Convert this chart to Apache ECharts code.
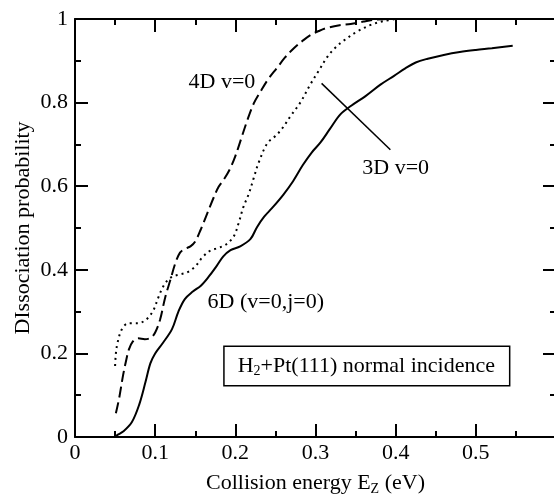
<!DOCTYPE html>
<html><head><meta charset="utf-8">
<script src="https://cdn.jsdelivr.net/npm/echarts@6/dist/echarts.min.js"></script>
<style>html,body{margin:0;padding:0;background:#fff}#c{width:554px;height:497px}</style>
</head><body><div id="c"></div>
<script>
// 6D (v=0,j=0) — solid
const energy6D = [0.050,0.053,0.060,0.071,0.080,0.088,0.094,0.100,0.110,0.121,0.129,0.137,0.147,0.157,0.167,0.177,0.185,0.194,0.206,0.219,0.227,0.236,0.246,0.260,0.272,0.284,0.295,0.306,0.318,0.331,0.345,0.362,0.381,0.398,0.412,0.425,0.440,0.460,0.480,0.500,0.520,0.546];
const prob6D   = [0.000,0.005,0.013,0.036,0.077,0.132,0.176,0.200,0.226,0.258,0.300,0.330,0.348,0.362,0.384,0.410,0.432,0.447,0.456,0.474,0.502,0.527,0.548,0.580,0.612,0.650,0.680,0.704,0.737,0.772,0.793,0.815,0.843,0.864,0.882,0.896,0.905,0.914,0.921,0.926,0.930,0.936];
// 4D v=0 — dashed
const energy4D = [0.051,0.055,0.060,0.064,0.067,0.072,0.079,0.087,0.095,0.100,0.106,0.1125,0.119,0.125,0.131,0.137,0.144,0.150,0.157,0.165,0.173,0.179,0.186,0.193,0.200,0.207,0.215,0.223,0.231,0.241,0.252,0.262,0.273,0.284,0.294,0.305,0.315,0.330,0.344,0.360,0.373,0.390];
const prob4D   = [0.057,0.092,0.148,0.185,0.208,0.228,0.236,0.234,0.238,0.250,0.280,0.334,0.376,0.415,0.441,0.450,0.456,0.468,0.497,0.535,0.573,0.598,0.617,0.640,0.672,0.712,0.758,0.798,0.825,0.856,0.883,0.908,0.930,0.948,0.962,0.972,0.979,0.985,0.988,0.994,0.998,1.000];
// 3D v=0 — dotted
const energy3D = [0.050,0.051,0.053,0.058,0.065,0.072,0.079,0.086,0.092,0.098,0.104,0.110,0.116,0.122,0.131,0.140,0.150,0.159,0.168,0.178,0.188,0.198,0.204,0.210,0.217,0.223,0.229,0.240,0.250,0.258,0.269,0.281,0.294,0.304,0.315,0.325,0.335,0.352,0.369,0.385,0.400];
const prob3D   = [0.170,0.200,0.225,0.256,0.271,0.272,0.272,0.277,0.287,0.304,0.334,0.360,0.376,0.384,0.389,0.394,0.408,0.430,0.445,0.452,0.460,0.480,0.511,0.550,0.583,0.620,0.656,0.703,0.720,0.737,0.768,0.800,0.845,0.876,0.910,0.932,0.948,0.970,0.986,0.995,1.000];
// leader line for the 3D label
const leaderE = [0.3076,0.3934];
const leaderP = [0.846,0.687];

const xTicks = [0,0.1,0.2,0.3,0.4,0.5];
const yTicks = [0,0.2,0.4,0.6,0.8,1];

const FONT = "'Liberation Serif','Times New Roman',serif";
const pairs = (a,b)=>a.map((v,i)=>[v,b[i]]);

const chart = echarts.init(document.getElementById('c'), null, {renderer:'canvas'});
const axisLine = {show:true, onZero:false, lineStyle:{color:'#000', width:2}};
const tick = {show:true, inside:true, length:13, lineStyle:{color:'#000', width:2}};
const minor = {show:true, splitNumber:2, length:6, lineStyle:{color:'#000', width:2}};

const option = {
  animation:false,
  backgroundColor:'#fff',
  grid:{left:75, top:19, width:481, height:418, containLabel:false, outerBoundsMode:'none'},
  xAxis:[{
    type:'value', min:0, max:0.6, interval:0.1, position:'bottom',
    axisLine, axisTick:tick, minorTick:minor, splitLine:{show:false},
    axisLabel:{color:'#000', fontFamily:FONT, fontSize:22, margin:5,
      formatter:v=> xTicks.some(t=>Math.abs(t-v)<1e-9) ? String(+v.toFixed(1)) : ''},
    name:'{a|Collision energy E}{s|Z}{a| (eV)}', nameLocation:'middle', nameGap:33, nameMoveOverlap:false,
    nameTextStyle:{color:'#000', fontFamily:FONT, fontSize:22,
      rich:{a:{fontFamily:FONT, fontSize:22, color:'#000'}, s:{fontFamily:FONT, fontSize:14, color:'#000', padding:[12,0,0,0]}}}
  },{
    type:'value', min:0, max:0.6, interval:0.1, position:'top',
    axisLine, axisTick:tick, minorTick:minor, splitLine:{show:false}, axisLabel:{show:false}
  }],
  yAxis:[{
    type:'value', min:0, max:1, interval:0.2, position:'left',
    axisLine, axisTick:tick, minorTick:minor, splitLine:{show:false},
    axisLabel:{color:'#000', fontFamily:FONT, fontSize:22, margin:7,
      formatter:v=> yTicks.some(t=>Math.abs(t-v)<1e-9) ? String(+v.toFixed(1)) : ''},
    name:'DIssociation probability', nameLocation:'middle', nameGap:41, nameMoveOverlap:false,
    nameTextStyle:{color:'#000', fontFamily:FONT, fontSize:22}
  },{
    type:'value', min:0, max:1, interval:0.2, position:'right',
    axisLine, axisTick:tick, minorTick:minor, splitLine:{show:false}, axisLabel:{show:false}
  }],
  series:[
    {name:'6D', type:'line', data:pairs(energy6D,prob6D), showSymbol:false, smooth:0.35,
     lineStyle:{color:'#000', width:2, type:'solid'}},
    {name:'4D', type:'line', data:pairs(energy4D,prob4D), showSymbol:false, smooth:0.35,
     lineStyle:{color:'#000', width:2, type:[11,5]}},
    {name:'3D', type:'line', data:pairs(energy3D,prob3D), showSymbol:false, smooth:0.35,
     lineStyle:{color:'#000', width:2, type:[2,4]}},
    {name:'leader', type:'line', data:pairs(leaderE,leaderP), showSymbol:false,
     lineStyle:{color:'#000', width:1.5}}
  ]
};
chart.setOption(option);

const P = (e,p)=>chart.convertToPixel({gridIndex:0},[e,p]);
const txt = (pos, text, extra)=>Object.assign({type:'text', x:pos[0], y:pos[1],
  style:Object.assign({text, fill:'#000', font:'22px '+FONT, align:'center', verticalAlign:'middle'}, extra||{})});
const p4 = P(0.1833,0.849), p3 = P(0.400,0.6435), p6 = P(0.238,0.323), pb = P(0.364,0.170);
chart.setOption({graphic:[
  txt(p4,'4D v=0'),
  txt(p3,'3D v=0'),
  txt(p6,'6D (v=0,j=0)'),
  {type:'text', x:pb[0], y:pb[1], style:{
    text:'{a|H}{s|2}{a|+Pt(111) normal incidence}', align:'center', verticalAlign:'middle',
    fill:'#000', borderColor:'#000', borderWidth:1.5, padding:[7,14,7,13], backgroundColor:'#fff',
    rich:{a:{font:'22px '+FONT, fill:'#000'}, s:{font:'14px '+FONT, fill:'#000', padding:[10,0,0,0]}}
  }}
]});
</script></body></html>
